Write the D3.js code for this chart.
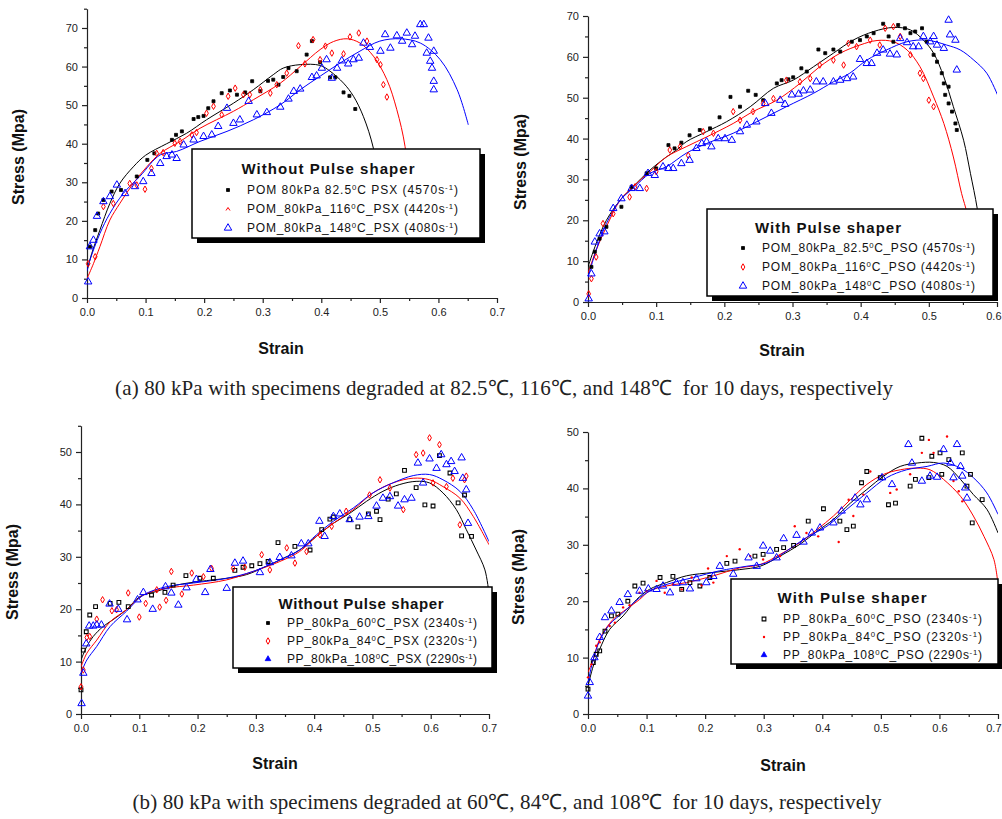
<!DOCTYPE html>
<html lang="en">
<head>
<meta charset="utf-8">
<title></title>
<style>
  body { margin: 0; background: #fff; }
  svg { display: block; font-family: "Liberation Sans", Arial, sans-serif; }
  .axis path, .axis line { stroke: #222; stroke-width: 1.2; }
  .axis text { font-size: 11px; fill: #222; font-family: "Liberation Sans", Arial, sans-serif; }
  .title { font-weight: bold; font-size: 16px; fill: #111; }
</style>
</head>
<body>
<div id="container"></div>
<script src="https://cdnjs.cloudflare.com/ajax/libs/d3/7.8.5/d3.min.js"></script>
<script>
// ---- (a) POM, without pulse shaper: [strain, stress] ----
var pomPsx82Fit = [[0,7],[0.008,11.5],[0.022,17.6],[0.039,24.5],[0.056,29.7],[0.079,34],[0.1,37],[0.136,40],[0.17,42.7],[0.204,46.2],[0.25,50.5],[0.284,54],[0.318,57.9],[0.335,59.6],[0.364,60.5],[0.398,60.3],[0.415,58.8],[0.438,55.7],[0.455,52.3],[0.472,47],[0.489,38.8],[0.5,28]];
var pomPsx116Fit = [[0,5],[0.011,8.9],[0.022,13.3],[0.039,20.2],[0.056,24.5],[0.079,29.7],[0.102,34],[0.125,37.5],[0.159,40.6],[0.193,44],[0.25,48.4],[0.284,51.4],[0.33,55.7],[0.364,60],[0.398,64.4],[0.421,66.5],[0.444,67.2],[0.466,66.1],[0.489,62.7],[0.512,56.6],[0.529,48.8],[0.543,39.3],[0.55,28]];
var pomPsx148Fit = [[0,7],[0.005,9.8],[0.022,16.7],[0.039,21.9],[0.062,27.1],[0.09,31.5],[0.125,37.1],[0.153,38],[0.193,40.6],[0.239,43.2],[0.284,46.2],[0.33,50.1],[0.364,54],[0.398,57.5],[0.432,60.9],[0.466,64],[0.5,66.6],[0.535,67.2],[0.569,66.1],[0.603,61.8],[0.632,54],[0.651,44.9]];
var pomPsx82Pts = [[0.005,13.3],[0.014,17.6],[0.019,21.9],[0.028,25.4],[0.042,27.6],[0.058,28],[0.085,31.5],[0.103,35.8],[0.115,37.5],[0.145,41],[0.152,42.3],[0.162,43.2],[0.182,46.4],[0.19,46.9],[0.199,47.2],[0.207,49.2],[0.216,51],[0.23,53.1],[0.244,53.8],[0.256,52.7],[0.27,53.3],[0.282,56.2],[0.296,53.6],[0.309,56.3],[0.318,56.6],[0.327,55.3],[0.335,57.3],[0.344,59.6],[0.358,58.8],[0.375,63.1],[0.384,66.6],[0.398,61.1],[0.415,57.2],[0.424,57.2],[0.438,53.3],[0.448,52.4],[0.458,49]];
var pomPsx116Pts = [[0.002,8.9],[0.014,10.7],[0.028,23.7],[0.045,24.5],[0.073,29.7],[0.085,29.3],[0.099,28.2],[0.11,33.6],[0.119,37.5],[0.13,37.7],[0.15,40.1],[0.159,40.6],[0.179,42.3],[0.187,42.9],[0.204,47.9],[0.216,49.7],[0.23,47.5],[0.241,52.3],[0.253,54.4],[0.267,52.7],[0.278,52.7],[0.296,54],[0.313,53.1],[0.324,55.3],[0.341,58.3],[0.361,65.4],[0.372,60.7],[0.386,67],[0.398,61.8],[0.407,65.3],[0.418,63.5],[0.438,63.3],[0.449,67.7],[0.464,68.7],[0.478,66.6],[0.495,61.8],[0.501,60.5],[0.506,55.3],[0.512,52.1]];
var pomPsx148Pts = [[0.002,4.2],[0.005,13.3],[0.011,15],[0.017,21.2],[0.028,25],[0.039,26.3],[0.051,29.3],[0.065,27.1],[0.082,28.9],[0.096,30.2],[0.11,32.3],[0.125,34.9],[0.136,36.7],[0.145,37.1],[0.153,36.2],[0.165,39.7],[0.182,41],[0.199,41.9],[0.213,42.3],[0.224,44.5],[0.239,49.2],[0.25,45.3],[0.261,46.2],[0.276,51],[0.29,47.5],[0.307,48.1],[0.33,49.5],[0.344,51.6],[0.353,53.6],[0.364,54.2],[0.384,57.2],[0.392,57.6],[0.401,59.6],[0.409,61.8],[0.418,57],[0.427,59.6],[0.435,61.5],[0.446,60.7],[0.455,61.8],[0.464,62.2],[0.472,66.1],[0.483,65],[0.501,64],[0.509,68.3],[0.518,64.8],[0.529,68],[0.538,66.6],[0.546,68.7],[0.555,65.7],[0.56,67.9],[0.569,70.9],[0.575,70.9],[0.58,63.5],[0.583,67.4],[0.586,61.4],[0.589,59.6],[0.592,56.2],[0.592,54],[0.592,64]];

// ---- (a) POM, with pulse shaper ----
var pomPso82Fit = [[0,8.6],[0.012,14.3],[0.027,20],[0.047,24.9],[0.066,28.2],[0.091,32.3],[0.115,35.5],[0.13,37.2],[0.144,39.2],[0.174,41.7],[0.203,44.1],[0.238,47.8],[0.272,52.3],[0.301,54.3],[0.331,57.6],[0.36,60.9],[0.389,64.1],[0.419,66.2],[0.448,67.2],[0.473,66.6],[0.492,64.1],[0.507,60.9],[0.522,55.1],[0.536,47.8],[0.551,39.6],[0.561,31.5],[0.571,22.9],[0.58,12]];
var pomPso116Fit = [[0,7],[0.012,12.7],[0.027,18.4],[0.047,24.9],[0.066,28.2],[0.091,31.9],[0.115,35.5],[0.144,38],[0.174,40.4],[0.213,43.7],[0.242,46.6],[0.277,49.4],[0.311,53.5],[0.34,57.6],[0.37,60.9],[0.399,62.9],[0.424,64],[0.448,63.7],[0.468,61.7],[0.487,57.6],[0.507,50.2],[0.522,43.7],[0.536,35.5],[0.548,26.6],[0.556,21.6],[0.562,12]];
var pomPso148Fit = [[0,6],[0.012,12.7],[0.027,19.2],[0.047,24.9],[0.066,27.8],[0.091,31.5],[0.115,33.1],[0.144,36.4],[0.174,38.8],[0.213,41.3],[0.252,44.5],[0.291,47.8],[0.331,51.1],[0.36,53.9],[0.384,56],[0.409,59.2],[0.438,61.7],[0.468,63.7],[0.497,64.1],[0.526,62.9],[0.546,61.7],[0.566,59.2],[0.585,56],[0.602,50.2]];
var pomPso82Pts = [[0.005,8.6],[0.01,12.3],[0.017,15.5],[0.027,18.4],[0.049,23.3],[0.064,28.2],[0.086,31.5],[0.1,32.7],[0.118,38.4],[0.127,37.6],[0.137,39],[0.149,40.8],[0.164,42.1],[0.179,42.5],[0.193,45.2],[0.209,50.2],[0.223,47.8],[0.235,51.7],[0.246,50.7],[0.257,49.4],[0.277,53.5],[0.284,54.3],[0.294,54.5],[0.301,55],[0.313,57.2],[0.321,56.4],[0.338,61.8],[0.348,60.9],[0.36,61.8],[0.37,61.3],[0.387,63.7],[0.399,64.1],[0.409,65],[0.419,65.8],[0.433,68.1],[0.441,65],[0.448,63.7],[0.455,67.8],[0.465,67],[0.473,65.8],[0.48,66.2],[0.49,67],[0.497,63.7],[0.507,60.5],[0.512,58.8],[0.519,56],[0.522,53.5],[0.524,50.7],[0.529,52.7],[0.529,48.6],[0.534,46.6],[0.539,43.7],[0.541,42.1]];
var pomPso116Pts = [[0.001,2],[0.005,5.7],[0.012,11],[0.022,19.2],[0.037,21.6],[0.061,25.7],[0.069,28.2],[0.086,27.8],[0.1,31.9],[0.12,37.2],[0.135,38],[0.147,35.9],[0.169,41.7],[0.184,41.3],[0.213,46.6],[0.223,44.5],[0.242,46.6],[0.257,48.6],[0.272,49.8],[0.291,54.3],[0.311,53.9],[0.326,54.7],[0.34,58],[0.36,59.2],[0.375,58],[0.382,63.3],[0.394,62.5],[0.414,64.1],[0.428,62.9],[0.436,67],[0.448,67.4],[0.458,65],[0.473,60.5],[0.487,56],[0.492,54.7],[0.5,49.4],[0.507,47.8]];
var pomPso148Pts = [[0.001,0.8],[0.005,6.9],[0.01,14.7],[0.017,16.7],[0.024,17.2],[0.037,22.9],[0.049,25.3],[0.064,27.8],[0.076,27.8],[0.088,31.5],[0.098,31],[0.11,33.1],[0.118,32.7],[0.125,32.7],[0.137,33.9],[0.149,34.7],[0.159,37.6],[0.167,38.8],[0.174,39.2],[0.181,38],[0.191,40],[0.201,40],[0.211,39.6],[0.223,41.7],[0.233,43.3],[0.247,44.1],[0.26,48.6],[0.269,46.2],[0.282,49.4],[0.289,48.4],[0.299,50.7],[0.309,50.9],[0.316,51.7],[0.326,51.9],[0.335,53.9],[0.345,53.9],[0.36,53.9],[0.37,54.3],[0.38,54.7],[0.389,55.1],[0.399,59.4],[0.409,58.4],[0.416,58.4],[0.424,60.9],[0.433,61.7],[0.443,60.7],[0.453,60.5],[0.458,64.5],[0.468,63.5],[0.477,62.5],[0.485,62.5],[0.492,65],[0.502,63.7],[0.507,65],[0.512,62.9],[0.522,62.1],[0.529,69],[0.531,65.4],[0.539,64.1],[0.541,56.8]];

// ---- (b) PP, without pulse shaper ----
var ppPsx60Fit = [[0,10.3],[0.01,12.9],[0.021,14.8],[0.038,16.7],[0.055,18],[0.078,19.9],[0.101,22.4],[0.13,23.4],[0.164,24.6],[0.204,25.3],[0.25,25.9],[0.284,26.6],[0.318,28.2],[0.347,29.7],[0.375,31.3],[0.404,33.9],[0.433,36.4],[0.461,38.3],[0.49,40.6],[0.518,42.5],[0.547,43.8],[0.575,44.4],[0.598,44.1],[0.621,42.2],[0.644,39],[0.661,35.2],[0.678,31.3],[0.693,27.5],[0.7,23]];
var ppPsx84Fit = [[0,9],[0.01,11.6],[0.027,14.1],[0.05,17.6],[0.078,19.9],[0.107,22.7],[0.147,24],[0.193,24.6],[0.25,25.6],[0.295,27.2],[0.341,29.1],[0.375,31],[0.404,33.9],[0.433,36.4],[0.467,39],[0.501,42.2],[0.535,44.1],[0.57,45],[0.598,44.7],[0.621,43.4],[0.65,41.2],[0.673,37.7],[0.7,32.3]];
var ppPsx108Fit = [[0,7.8],[0.01,10.3],[0.027,12.9],[0.05,16.7],[0.078,19.6],[0.107,22.7],[0.147,24.3],[0.193,25],[0.25,25.9],[0.295,27.2],[0.341,29.4],[0.375,31.3],[0.404,34.2],[0.433,36.8],[0.467,39.3],[0.501,42.2],[0.535,44.1],[0.57,45.5],[0.598,45.7],[0.621,44.7],[0.65,42.5],[0.673,39],[0.7,32.9]];
var ppPsx60Pts = [[0,4.6],[0.004,12.2],[0.009,15.7],[0.015,18.9],[0.025,20.5],[0.05,21.1],[0.065,21.3],[0.081,20.5],[0.121,22.7],[0.144,23.2],[0.158,24.6],[0.18,26.4],[0.204,25.9],[0.227,25.9],[0.264,27.4],[0.278,28],[0.293,28.3],[0.307,28.7],[0.321,29.1],[0.338,32.7],[0.367,32],[0.393,31.3],[0.413,35.2],[0.427,37.2],[0.433,37.6],[0.461,37.1],[0.475,35.7],[0.493,38.2],[0.507,38.7],[0.513,37.1],[0.527,41],[0.541,42],[0.555,46.5],[0.575,43.2],[0.59,39.9],[0.604,39.7],[0.615,49.3],[0.633,46],[0.647,40.3],[0.653,34],[0.658,41.8],[0.67,33.9]];
var ppPsx84Pts = [[0,5.2],[0.004,8.4],[0.01,14.6],[0.015,14.8],[0.027,18.1],[0.037,21.8],[0.053,19.7],[0.061,19.9],[0.081,23.1],[0.1,18.5],[0.111,21.1],[0.13,23.7],[0.135,20.4],[0.146,21.7],[0.155,27.2],[0.173,22.9],[0.19,26.9],[0.21,26.2],[0.224,27.8],[0.261,27.8],[0.281,28],[0.31,30.4],[0.324,27.5],[0.353,31.7],[0.367,28.8],[0.387,31],[0.41,34.2],[0.43,35.8],[0.455,38.7],[0.495,41.8],[0.513,44.7],[0.53,43.1],[0.553,39],[0.575,49.5],[0.587,49.8],[0.598,52.7],[0.604,44.1],[0.615,51.4],[0.627,43.4],[0.638,45],[0.65,36.1],[0.658,44.7],[0.661,45.4]];
var ppPsx108Pts = [[0.001,2],[0.004,7.8],[0.009,13.4],[0.014,16.8],[0.021,16.8],[0.027,17],[0.035,17],[0.049,21],[0.064,20],[0.079,18],[0.097,21.8],[0.107,23.2],[0.123,20],[0.145,24.3],[0.155,23.1],[0.167,20.8],[0.181,24.1],[0.198,25.7],[0.213,23.2],[0.222,27.6],[0.25,24],[0.264,28.8],[0.278,29.2],[0.307,27],[0.324,28.9],[0.341,29.9],[0.361,30.2],[0.378,32.5],[0.39,32.5],[0.409,36.8],[0.418,33.9],[0.433,37.7],[0.444,38.2],[0.461,37.1],[0.478,37.6],[0.493,37.7],[0.507,39.7],[0.518,41.2],[0.53,41.5],[0.544,39.7],[0.555,40.9],[0.567,41.2],[0.578,47.9],[0.587,44.1],[0.598,48.7],[0.61,46.9],[0.618,49.5],[0.627,47.6],[0.635,48.2],[0.641,46.3],[0.653,48.9],[0.655,45],[0.661,42.8],[0.664,36.4]];

// ---- (b) PP, with pulse shaper ----
var ppPso60Fit = [[0,5],[0.009,8.5],[0.02,11.5],[0.037,15],[0.06,17.4],[0.083,20.3],[0.105,22.1],[0.134,23.3],[0.168,24.5],[0.214,25.1],[0.259,25.6],[0.294,26.2],[0.328,28],[0.362,30.1],[0.391,32.4],[0.419,34.5],[0.448,37.4],[0.476,39.8],[0.505,42.2],[0.533,43.9],[0.562,44.5],[0.59,44.6],[0.613,43.9],[0.636,41.6],[0.658,38.9],[0.681,36.3],[0.7,32.1]];
var ppPso84Fit = [[0,7.4],[0.009,9.7],[0.02,13.3],[0.043,16.8],[0.066,18.6],[0.088,20.3],[0.105,21.8],[0.134,22.7],[0.168,23.3],[0.214,24.5],[0.259,25.9],[0.294,26.5],[0.328,28.3],[0.362,30.4],[0.391,32.7],[0.419,35.1],[0.448,38],[0.476,40.7],[0.505,42.5],[0.533,43.3],[0.562,43.6],[0.584,43.3],[0.607,41.6],[0.636,38.6],[0.658,35.1],[0.676,31.5],[0.693,27.4],[0.7,23]];
var ppPso108Fit = [[0,5.6],[0.009,9.7],[0.02,13],[0.037,15.9],[0.06,18],[0.088,20.6],[0.111,22.1],[0.145,23.3],[0.18,24.2],[0.225,25.4],[0.271,26.2],[0.305,26.8],[0.339,28.9],[0.373,31.3],[0.408,33.3],[0.442,36.3],[0.476,39.2],[0.51,41.9],[0.544,43.3],[0.579,43.9],[0.607,44.5],[0.636,43.6],[0.658,41.9],[0.681,39.2],[0.7,35.4]];
var ppPso60Pts = [[0,4.4],[0.009,9.1],[0.014,10.6],[0.02,11.2],[0.029,14.7],[0.04,17.4],[0.051,17.7],[0.068,20],[0.08,22.7],[0.094,23.2],[0.123,24.2],[0.145,24.4],[0.16,22.1],[0.174,23.3],[0.191,22.7],[0.208,24.2],[0.237,26.7],[0.251,27.1],[0.285,28],[0.299,28.3],[0.322,29.2],[0.334,29.5],[0.351,29.9],[0.376,34.2],[0.402,36.4],[0.43,34.2],[0.442,32.7],[0.453,33.3],[0.467,41],[0.476,43],[0.499,41.9],[0.513,37.1],[0.525,37.4],[0.55,40.4],[0.559,41.6],[0.57,48.9],[0.582,41.9],[0.587,45.7],[0.601,46.3],[0.604,42.5],[0.616,45.1],[0.639,46.3],[0.647,40.4],[0.653,42.5],[0.656,33.9],[0.673,38]];
var ppPso84Pts = [[0,6.5],[0.006,8.8],[0.014,12.1],[0.02,12.7],[0.037,15.6],[0.046,16.2],[0.06,18.9],[0.071,19.3],[0.088,21.5],[0.1,21.8],[0.117,23.6],[0.131,21.5],[0.145,23],[0.16,22.1],[0.177,24.2],[0.194,22.8],[0.205,25.8],[0.214,23.3],[0.237,28],[0.259,29.2],[0.277,28],[0.299,27.4],[0.328,28],[0.353,33.3],[0.373,32.1],[0.393,31.5],[0.428,30.5],[0.445,38],[0.453,35.1],[0.47,38.9],[0.482,43],[0.516,39.2],[0.527,39.8],[0.55,42.5],[0.57,46.3],[0.582,48.6],[0.59,46.3],[0.613,49.2],[0.624,41.3],[0.633,39.5],[0.639,37.7]];
var ppPso108Pts = [[0,3.2],[0.003,5.6],[0.011,10],[0.02,13.6],[0.029,17.1],[0.04,18.3],[0.054,19.8],[0.068,21.2],[0.088,21.8],[0.103,22.2],[0.117,22.1],[0.128,22.7],[0.14,21.5],[0.151,23.2],[0.162,23.3],[0.174,22.2],[0.185,24],[0.202,23.3],[0.214,24.4],[0.225,26.2],[0.248,24.8],[0.274,27.7],[0.288,26.2],[0.299,29.8],[0.311,28.9],[0.322,27.7],[0.334,31.1],[0.356,31.7],[0.368,30.5],[0.382,32.1],[0.396,33],[0.419,33.9],[0.433,36],[0.456,38.3],[0.465,37.1],[0.476,38],[0.502,41.9],[0.519,40.7],[0.547,47.8],[0.553,44.5],[0.57,41.3],[0.584,42.2],[0.596,42],[0.607,46.9],[0.619,44.5],[0.624,41.9],[0.63,47.8],[0.636,43.9],[0.639,42.2],[0.644,40.1],[0.647,38.3]];

// ---- text ----
var legendTitles = ["Without Pulse shaper", "With Pulse shaper", "Without Pulse shaper", "With Pulse shaper"];
var pomPsxLabels = ["POM 80kPa 82.5^{0}C  PSX (4570s^{-1})", "POM_80kPa_116^{0}C_PSX (4420s^{-1})", "POM_80kPa_148^{0}C_PSX (4080s^{-1})"];
var pomPsoLabels = ["POM_80kPa_82.5^{0}C_PSO (4570s^{-1})", "POM_80kPa_116^{0}C_PSO (4420s^{-1})", "POM_80kPa_148^{0}C_PSO (4080s^{-1})"];
var ppPsxLabels = ["PP_80kPa_60^{0}C_PSX (2340s^{-1})", "PP_80kPa_84^{0}C_PSX (2320s^{-1})", "PP_80kPa_108^{0}C_PSX (2290s^{-1})"];
var ppPsoLabels = ["PP_80kPa_60^{0}C_PSO (2340s^{-1})", "PP_80kPa_84^{0}C_PSO (2320s^{-1})", "PP_80kPa_108^{0}C_PSO (2290s^{-1})"];
var captions = ["(a) 80 kPa with specimens degraded at 82.5\u2103, 116\u2103, and 148\u2103\u00a0 for 10 days, respectively",
                "(b) 80 kPa with specimens degraded at 60\u2103, 84\u2103, and 108\u2103\u00a0 for 10 days, respectively"];
var seriesColors = ["#000000", "#ff0000", "#0000ff"];

// ---- layout of the four panels ----
var panels = [
  { fits: [pomPsx82Fit, pomPsx116Fit, pomPsx148Fit], pts: [pomPsx82Pts, pomPsx116Pts, pomPsx148Pts],
    labels: pomPsxLabels, title: legendTitles[0], marks: ["squareFill", "diamond", "triangle"], legMarks: ["squareFill", "caret", "triangle"],
    xMax: 0.7, yMax: 75, xr: [87, 497], yr: [298, 8.7],
    strain: [281, 348], stress: [18, 157],
    leg: { box: [192, 149, 480, 238], title: [328, 169, 173], symX: 228, textX: 247, textW: 211, rows: [190, 209, 228] } },
  { fits: [pomPso82Fit, pomPso116Fit, pomPso148Fit], pts: [pomPso82Pts, pomPso116Pts, pomPso148Pts],
    labels: pomPsoLabels, title: legendTitles[1], marks: ["squareFill", "diamond", "triangle"], legMarks: ["squareFill", "diamond", "triangle"],
    xMax: 0.6, yMax: 70, xr: [588, 997], yr: [302, 16],
    strain: [782, 350], stress: [520, 162],
    leg: { box: [707, 209, 993, 296], title: [828, 228, 146], symX: 743, textX: 762, textW: 213, rows: [248, 267, 286] } },
  { fits: [ppPsx60Fit, ppPsx84Fit, ppPsx108Fit], pts: [ppPsx60Pts, ppPsx84Pts, ppPsx108Pts],
    labels: ppPsxLabels, title: legendTitles[2], marks: ["square", "diamond", "triangle"], legMarks: ["squareFill", "diamond", "triangleFill"],
    xMax: 0.7, yMax: 55, xr: [81, 489], yr: [714, 425.8],
    strain: [275, 763], stress: [12, 572],
    leg: { box: [233, 587, 492, 668], title: [361, 604, 165], symX: 268, textX: 287, textW: 190, rows: [623, 641, 659] } },
  { fits: [ppPso60Fit, ppPso84Fit, ppPso108Fit], pts: [ppPso60Pts, ppPso84Pts, ppPso108Pts],
    labels: ppPsoLabels, title: legendTitles[3], marks: ["square", "dot", "triangle"], legMarks: ["square", "dot", "triangleFill"],
    xMax: 0.7, yMax: 50, xr: [588, 998], yr: [714, 432],
    strain: [783, 765], stress: [518, 577],
    leg: { box: [731, 579, 998, 664], title: [852, 598, 149], symX: 764, textX: 783, textW: 199, rows: [619, 637, 655] } }
];

var svg = d3.select("#container").append("svg")
  .attr("width", 1002).attr("height", 819);

function marker(g, type, color) {
  if (type === "squareFill") {
    g.append("path").attr("d", d3.symbol().type(d3.symbolSquare).size(9)).attr("fill", color).attr("stroke", color).attr("stroke-width", 0.8);
  } else if (type === "square") {
    g.append("path").attr("d", d3.symbol().type(d3.symbolSquare).size(14)).attr("fill", "none").attr("stroke", color).attr("stroke-width", 1.1);
  } else if (type === "diamond") {
    g.append("path").attr("d", d3.symbol().type(d3.symbolDiamond).size(12)).attr("fill", "none").attr("stroke", color).attr("stroke-width", 1);
  } else if (type === "dot") {
    g.append("circle").attr("r", 1.2).attr("fill", color);
  } else if (type === "caret") {
    g.append("path").attr("d", "M-2,1.5L0,-1.5L2,1.5").attr("fill", "none").attr("stroke", color).attr("stroke-width", 1);
  } else if (type === "triangleFill") {
    g.append("path").attr("d", d3.symbol().type(d3.symbolTriangle).size(14)).attr("fill", color).attr("stroke", color).attr("stroke-width", 0.8);
  } else {
    g.append("path").attr("d", d3.symbol().type(d3.symbolTriangle).size(24)).attr("fill", "none").attr("stroke", color).attr("stroke-width", 1);
  }
}

// writes "a^{b}c" style text with superscripts
function richText(textSel, str, size) {
  var parts = str.split(/\^\{(.*?)\}/);
  parts.forEach(function(s, i) {
    if (!s) return;
    var t = textSel.append("tspan").text(s);
    if (i % 2 === 1) t.attr("font-size", size * 0.65).attr("baseline-shift", "super");
  });
}

panels.forEach(function(P, pi) {
  var x = d3.scaleLinear().domain([0, P.xMax]).range(P.xr);
  var y = d3.scaleLinear().domain([0, P.yMax]).range(P.yr);
  var g = svg.append("g");

  var majX = d3.range(0, P.xMax + 1e-9, 0.1);
  var minX = d3.range(0.05, P.xMax, 0.1);
  var majY = d3.range(0, P.yMax + 1e-9, 10);
  var minY = d3.range(5, P.yMax + 1e-9, 10);

  var xa = g.append("g").attr("class", "axis").attr("transform", "translate(0," + P.yr[0] + ")")
    .call(d3.axisBottom(x).tickValues(majX).tickFormat(d3.format(".1f")).tickSize(5).tickPadding(5).tickSizeOuter(0));
  // the last label would run off the page; keep it inside
  xa.selectAll(".tick text").each(function(d) {
    if (x(d) + 9 > 1002) d3.select(this).attr("text-anchor", "end").attr("x", 1001 - x(d));
  });
  g.append("g").attr("class", "axis").attr("transform", "translate(0," + P.yr[0] + ")")
    .call(d3.axisBottom(x).tickValues(minX).tickFormat("").tickSize(3).tickSizeOuter(0))
    .select(".domain").remove();
  g.append("g").attr("class", "axis").attr("transform", "translate(" + P.xr[0] + ",0)")
    .call(d3.axisLeft(y).tickValues(majY).tickFormat(d3.format("d")).tickSize(5).tickPadding(4).tickSizeOuter(0));
  g.append("g").attr("class", "axis").attr("transform", "translate(" + P.xr[0] + ",0)")
    .call(d3.axisLeft(y).tickValues(minY).tickFormat("").tickSize(3).tickSizeOuter(0))
    .select(".domain").remove();

  g.append("text").attr("class", "title").attr("x", P.strain[0]).attr("y", P.strain[1])
    .attr("text-anchor", "middle").attr("dy", "0.35em").text("Strain");
  g.append("text").attr("class", "title").attr("text-anchor", "middle").attr("dy", "0.35em")
    .attr("transform", "translate(" + P.stress[0] + "," + P.stress[1] + ") rotate(-90)")
    .text("Stress (Mpa)");

  var clipId = "clip" + pi;
  svg.append("clipPath").attr("id", clipId).append("rect")
    .attr("x", P.xr[0]).attr("y", P.yr[1] - 10).attr("width", P.xr[1] - P.xr[0]).attr("height", P.yr[0] - P.yr[1] + 10);

  var line = d3.line().x(function(d) { return x(d[0]); }).y(function(d) { return y(d[1]); })
    .curve(d3.curveCatmullRom.alpha(0.5));
  var plot = g.append("g").attr("clip-path", "url(#" + clipId + ")");

  P.fits.forEach(function(f, si) {
    plot.append("path").datum(f).attr("d", line).attr("fill", "none")
      .attr("stroke", seriesColors[si]).attr("stroke-width", 1);
  });
  P.pts.forEach(function(pts, si) {
    pts.forEach(function(d) {
      var m = g.append("g").attr("transform", "translate(" + x(d[0]) + "," + y(d[1]) + ")");
      marker(m, P.marks[si], seriesColors[si]);
    });
  });

  // legend
  var L = P.leg, b = L.box;
  var lg = g.append("g");
  lg.append("rect").attr("x", b[0] + 5).attr("y", b[1] + 5).attr("width", b[2] - b[0]).attr("height", b[3] - b[1]).attr("fill", "#000");
  lg.append("rect").attr("x", b[0]).attr("y", b[1]).attr("width", b[2] - b[0]).attr("height", b[3] - b[1])
    .attr("fill", "#fff").attr("stroke", "#000").attr("stroke-width", 1.5);
  lg.append("text").attr("x", L.title[0]).attr("y", L.title[1]).attr("dy", "0.35em").attr("text-anchor", "middle")
    .attr("font-size", 15).attr("font-weight", "bold").attr("fill", "#111")
    .attr("textLength", L.title[2]).attr("lengthAdjust", "spacing").text(P.title);
  P.labels.forEach(function(lab, si) {
    var m = lg.append("g").attr("transform", "translate(" + L.symX + "," + L.rows[si] + ")");
    marker(m, P.legMarks[si], seriesColors[si]);
    var t = lg.append("text").attr("x", L.textX).attr("y", L.rows[si]).attr("dy", "0.35em")
      .attr("font-size", 12).attr("fill", "#111").attr("textLength", L.textW).attr("lengthAdjust", "spacing");
    richText(t, lab, 12);
  });
});

// captions
svg.append("text").attr("x", 504).attr("y", 388).attr("dy", "0.35em").attr("text-anchor", "middle")
  .attr("font-family", "'Liberation Serif', 'Times New Roman', serif").attr("font-size", 21).attr("fill", "#222")
  .attr("textLength", 778).attr("lengthAdjust", "spacing").text(captions[0]);
svg.append("text").attr("x", 507).attr("y", 802).attr("dy", "0.35em").attr("text-anchor", "middle")
  .attr("font-family", "'Liberation Serif', 'Times New Roman', serif").attr("font-size", 21).attr("fill", "#222")
  .attr("textLength", 749).attr("lengthAdjust", "spacing").text(captions[1]);
</script>
</body>
</html>
